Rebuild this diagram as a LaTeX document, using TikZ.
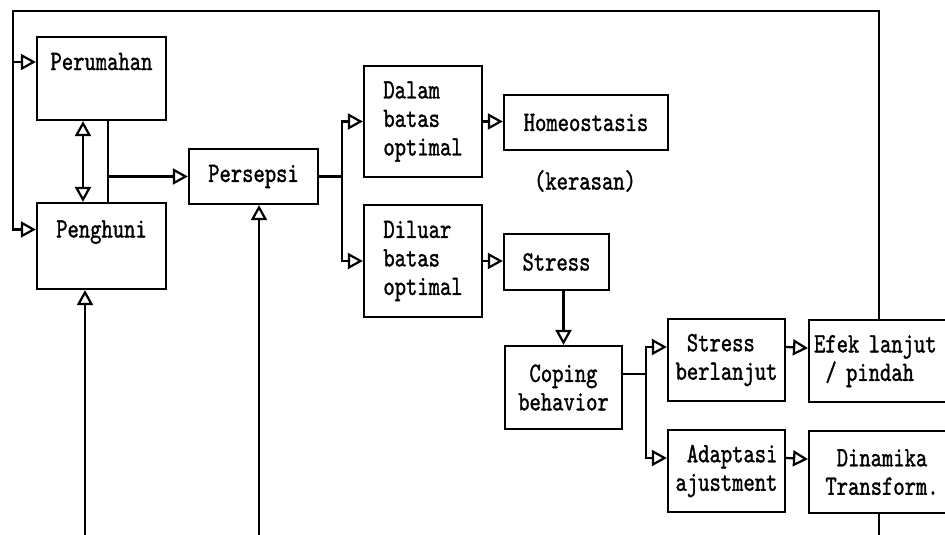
\documentclass[tikz,border=0pt]{standalone}
\usepackage{fontspec}
\usetikzlibrary{arrows.meta,calc}
\newfontfamily\twfont[FakeStretch=0.77,FakeBold=1.2]{lmmono10-regular.otf}
\newcommand{\pad}{\phantom{x}}
\begin{document}
\begin{tikzpicture}[x=1pt,y=-1pt,
  line width=2.2pt,
  box/.style={draw, line width=2.2pt, inner sep=0pt, font=\twfont\fontsize{28}{28.5}\selectfont, align=center},
  plain/.style={inner sep=0pt, font=\twfont\fontsize{28}{28.5}\selectfont},
  arr/.style={-{Triangle[open,length=15pt,width=16pt]}},
  arrtwo/.style={{Triangle[open,length=15pt,width=16pt]}-{Triangle[open,length=15pt,width=16pt]}}]
\useasboundingbox (0,0) rectangle (945,535);

% boxes
\node[box, minimum width=129, minimum height=83] (peru) at (101.5,78.5) {\raisebox{8.5pt}[0pt][0pt]{Perumahan}};
\node[box, minimum width=129, minimum height=86] (peng) at (101.5,246) {\raisebox{8.5pt}[0pt][0pt]{Penghuni}};
\node[box, minimum width=129, minimum height=55] (pers) at (253.5,176.5) {Persepsi};
\node[box, minimum width=118, minimum height=111, align=left] (dalam) at (423,121.5) {Dalam\\batas\\optimal};
\node[box, minimum width=164, minimum height=55] (homeo) at (586,122.5) {Homeostasis};
\node[plain] (keras) at (585,181) {(kerasan)};
\node[box, minimum width=118, minimum height=112, align=left] (diluar) at (423,261) {Diluar\\batas\\optimal};
\node[box, minimum width=105, minimum height=56] (stress) at (556.5,262) {Stress};
\node[box, minimum width=117, minimum height=83, align=left] (coping) at (563.5,387.5) {\pad Coping\\behavior};
\node[box, minimum width=117, minimum height=82, align=left] (sb) at (726.5,360) {\pad Stress\\berlanjut};
\node[box, minimum width=117, minimum height=82, align=left] (adap) at (726.5,471) {\pad Adaptasi\\ajustment};
\node[box, anchor=north west, minimum height=82, text width=130, align=left, inner xsep=5pt] (efek) at (808,319) {Efek lanjut\\\pad/ pindah};
\node[box, anchor=north west, minimum height=82, text width=130, align=left, inner xsep=5pt] (dina) at (808,430) {\pad\pad Dinamika\\\pad Transform.};

% helper coordinates
\coordinate (tl) at (13,11);
\coordinate (pA) at ($(peru.west)+(0,-16.5)$);
\coordinate (gA) at ($(peng.west)+(0,-16.5)$);
\coordinate (br) at ($(dina.south)+(0,40)$);
\coordinate (b1) at (85,545);
\coordinate (b2) at (259,545);

% feedback loop
\draw[arr] (efek.north) |- (tl) |- (gA);
\draw[arr] (tl |- pA) -- (pA);
\draw (dina.south) -- (br);

% Perumahan / Penghuni
\draw[arrtwo] ($(peru.south)+(-18.5,0)$) -- ($(peng.north)+(-18.5,0)$);
\draw ($(peru.south)+(6.5,0)$) coordinate (v1) -- ($(peng.north)+(6.5,0)$);
\draw[arr] (v1 |- pers.west) -- (pers.west);
\draw[arr] (b1) -- (b1 |- peng.south);
\draw[arr] (b2) -- (b2 |- pers.south);

% Persepsi branches
\draw (pers.east) -- ++(23,0) coordinate (j1);
\draw[arr] (j1) |- (dalam.west);
\draw[arr] (j1) |- (diluar.west);
\draw[arr] (dalam.east) -- (dalam.east -| homeo.west);
\draw[arr] (diluar.east) -- (diluar.east -| stress.west);
\draw[arr] (coping.north |- stress.south) -- (coping.north);

% coping branches
\coordinate (j2) at ($(coping.east)+(23,-13.5)$);
\coordinate (sA) at ($(sb.west)+(0,-13)$);
\coordinate (aA) at ($(adap.west)+(0,-13)$);
\draw ($(coping.east)+(0,-13.5)$) -- (j2);
\draw[arr] (j2) |- (sA);
\draw[arr] (j2) |- (aA);
\draw[arr] ($(sb.east)+(0,-13)$) -- ($(efek.west)+(0,-13)$);
\draw[arr] ($(adap.east)+(0,-13)$) -- ($(dina.west)+(0,-13)$);
\end{tikzpicture}
\end{document}
